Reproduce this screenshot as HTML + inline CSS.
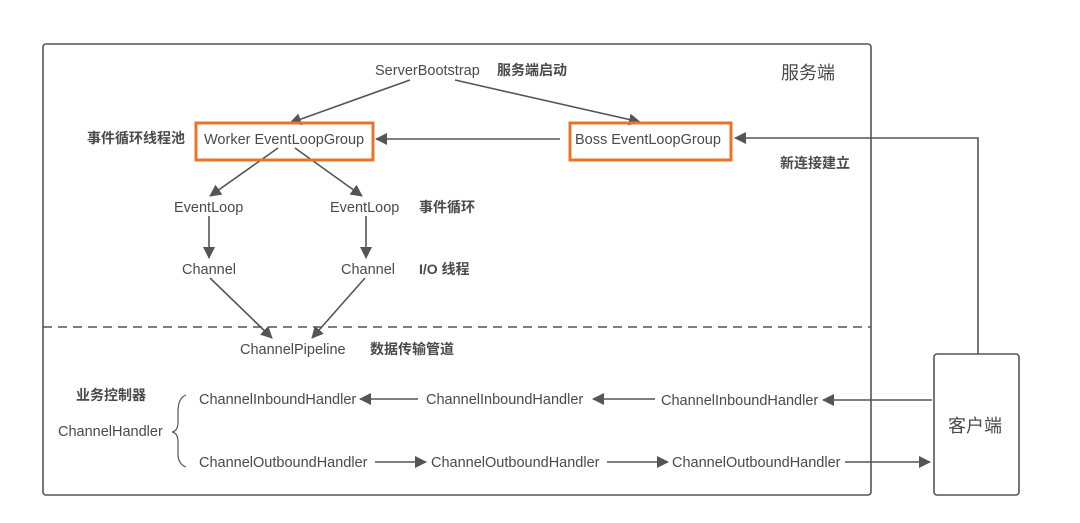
<!DOCTYPE html>
<html><head><meta charset="utf-8"><style>
body{margin:0;background:#fff;}
svg{display:block;font-family:"Liberation Sans","Noto Sans CJK SC",sans-serif;}
text{fill:#4a4a4a;font-size:14.5px;}
.b{font-weight:bold;font-size:14px;}
</style></head><body>
<svg width="1080" height="523" viewBox="0 0 1080 523">
<defs><marker id="a" markerWidth="12" markerHeight="12" refX="11" refY="6" orient="auto" markerUnits="userSpaceOnUse"><path d="M0,0 L12,6 L0,12 z" fill="#555"/></marker></defs>
<g stroke="#555" stroke-width="1.6" fill="none">
<rect x="43" y="44" width="828" height="451" rx="3"/>
<line x1="43" y1="327" x2="871" y2="327" stroke-dasharray="9,6"/>
<rect x="934" y="354" width="85" height="141" rx="3"/>
<polyline points="978,354 978,138 735,138" marker-end="url(#a)"/>
<line x1="560" y1="139" x2="376" y2="139" marker-end="url(#a)"/>
<line x1="410" y1="80" x2="290" y2="123" marker-end="url(#a)"/>
<line x1="455" y1="80" x2="640" y2="122" marker-end="url(#a)"/>
<line x1="278" y1="148" x2="210" y2="196" marker-end="url(#a)"/>
<line x1="295" y1="148" x2="362" y2="196" marker-end="url(#a)"/>
<line x1="209" y1="216" x2="209" y2="258" marker-end="url(#a)"/>
<line x1="366" y1="216" x2="366" y2="258" marker-end="url(#a)"/>
<line x1="210" y1="278" x2="272" y2="338" marker-end="url(#a)"/>
<line x1="365" y1="278" x2="312" y2="338" marker-end="url(#a)"/>
<line x1="418" y1="399" x2="360" y2="399" marker-end="url(#a)"/>
<line x1="655" y1="399" x2="593" y2="399" marker-end="url(#a)"/>
<line x1="932" y1="400" x2="823" y2="400" marker-end="url(#a)"/>
<line x1="375" y1="462" x2="426" y2="462" marker-end="url(#a)"/>
<line x1="607" y1="462" x2="668" y2="462" marker-end="url(#a)"/>
<line x1="845" y1="462" x2="930" y2="462" marker-end="url(#a)"/>
<path d="M186,395 Q178,398 178,412 L178,422 Q178,431 172,432 Q178,433 178,442 L178,454 Q178,464 186,467" stroke-width="1.2"/>
</g>
<rect x="196" y="123" width="177" height="37" fill="none" stroke="#e8742a" stroke-width="3"/>
<rect x="570" y="123" width="161" height="37" fill="none" stroke="#e8742a" stroke-width="3"/>
<text x="375" y="75">ServerBootstrap</text>
<text x="497" y="75" class="b">服务端启动</text>
<text x="781" y="79" style="font-size:18px">服务端</text>
<text x="87" y="143" class="b">事件循环线程池</text>
<text x="204" y="144">Worker EventLoopGroup</text>
<text x="575" y="144">Boss EventLoopGroup</text>
<text x="780" y="168" class="b">新连接建立</text>
<text x="174" y="212">EventLoop</text>
<text x="330" y="212">EventLoop</text>
<text x="419" y="212" class="b">事件循环</text>
<text x="182" y="274">Channel</text>
<text x="341" y="274">Channel</text>
<text x="419" y="274" class="b">I/O 线程</text>
<text x="240" y="354">ChannelPipeline</text>
<text x="370" y="354" class="b">数据传输管道</text>
<text x="76" y="400" class="b">业务控制器</text>
<text x="58" y="436">ChannelHandler</text>
<text x="199" y="404">ChannelInboundHandler</text>
<text x="426" y="404">ChannelInboundHandler</text>
<text x="661" y="405">ChannelInboundHandler</text>
<text x="199" y="467">ChannelOutboundHandler</text>
<text x="431" y="467">ChannelOutboundHandler</text>
<text x="672" y="467">ChannelOutboundHandler</text>
<text x="948" y="432" style="font-size:18px">客户端</text>
</svg>
</body></html>
